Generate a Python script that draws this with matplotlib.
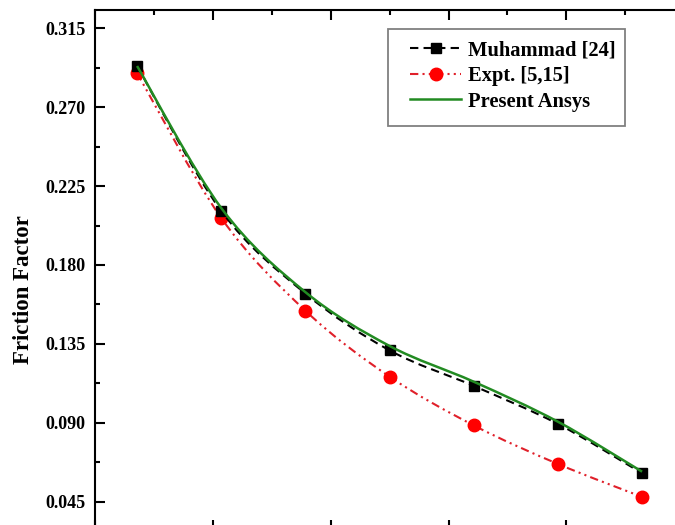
import matplotlib
matplotlib.use("Agg")
import numpy as np
import matplotlib.pyplot as plt
from matplotlib.ticker import MultipleLocator, FormatStrFormatter
from matplotlib.path import Path
from matplotlib.patches import PathPatch, Rectangle
from matplotlib.lines import Line2D

# Reynolds number at each sample
reynolds = [500, 1000, 1500, 2000, 2500, 3000, 3500]

# Friction factor series
muhammad = [0.2935, 0.2108, 0.1637, 0.1313, 0.1110, 0.0893, 0.0612]
experiment = [0.2895, 0.2068, 0.1539, 0.1163, 0.0885, 0.0665, 0.0477]
ansys = [0.2935, 0.2125, 0.1645, 0.1338, 0.1134, 0.0906, 0.0621]

series_labels = ["Muhammad [24]", "Expt. [5,15]", "Present Ansys"]
y_label = "Friction Factor"

plt.rcParams["font.family"] = ["Liberation Serif", "DejaVu Serif"]
plt.rcParams["font.weight"] = "bold"


def smooth_path(xs, ys):
    """Catmull-Rom curve through the points, as cubic Bezier segments."""
    pts = np.column_stack([xs, ys]).astype(float)
    ext = np.vstack([pts[0], pts, pts[-1]])
    verts = [pts[0]]
    codes = [Path.MOVETO]
    for i in range(len(pts) - 1):
        p0, p1, p2, p3 = ext[i], ext[i + 1], ext[i + 2], ext[i + 3]
        verts += [p1 + (p2 - p0) / 6, p2 - (p3 - p1) / 6, p2]
        codes += [Path.CURVE4] * 3
    return Path(verts, codes)


fig = plt.figure(figsize=(6.75, 5.25), dpi=100)
ax = fig.add_axes([95 / 675, -0.00895, 606 / 675, 0.9901])

styles = [
    dict(color="black", lw=1.5, ls=(0, (4, 2.5)), marker="s", ms=7.5,
         mfc="black", mec="black", z=3),
    dict(color="#e0202a", lw=1.5, ls=(0, (4, 2, 1, 2, 1, 2)), marker="o", ms=9,
         mfc="#ff0000", mec="#ff0000", z=2),
    dict(color="#228b22", lw=1.8, ls="-", marker=None, ms=0,
         mfc="none", mec="none", z=4),
]

handles = []
for ys, st, lab in zip([muhammad, experiment, ansys], styles, series_labels):
    ax.add_patch(PathPatch(smooth_path(reynolds, ys), fill=False, edgecolor=st["color"],
                           lw=st["lw"], ls=st["ls"], zorder=st["z"]))
    if st["marker"]:
        ax.plot(reynolds, ys, ls="none", marker=st["marker"], ms=st["ms"],
                mfc=st["mfc"], mec=st["mec"], zorder=st["z"] + 0.5)
    handles.append(Line2D([], [], color=st["color"], lw=st["lw"], ls=st["ls"],
                          marker=st["marker"], ms=st["ms"], mfc=st["mfc"],
                          mec=st["mec"], label=lab))

ax.set_xlim(250, 3850)
ax.set_ylim(0.029, 0.3255)

ax.xaxis.set_major_locator(MultipleLocator(700, offset=250))
ax.xaxis.set_minor_locator(MultipleLocator(350, offset=250))
ax.yaxis.set_major_locator(MultipleLocator(0.045))
ax.yaxis.set_minor_locator(MultipleLocator(0.0225))
ax.yaxis.set_major_formatter(FormatStrFormatter("%.3f"))

ax.tick_params(which="both", direction="in", top=True, right=True, width=1.5)
ax.tick_params(which="major", length=7.2, pad=7, labelsize=13)
ax.tick_params(which="minor", length=3.6)
ax.tick_params(axis="x", labelbottom=False)
for lbl in ax.get_yticklabels():
    lbl.set_fontweight("bold")

for sp in ax.spines.values():
    sp.set_linewidth(1.5)

fig.text(24 / 675, 1 - 290 / 525, y_label, rotation=90, ha="center", va="center",
         fontsize=16.5, fontweight="bold")

# legend box and entries
fig.add_artist(Rectangle((388 / 675, 1 - 126 / 525), 237 / 675, 97 / 525,
                         transform=fig.transFigure, fill=False,
                         edgecolor="#808080", lw=1.3))
ax.legend(handles=handles, loc="upper left", bbox_to_anchor=(410 / 675, 1 - 40 / 525),
          bbox_transform=fig.transFigure, borderaxespad=0, frameon=False,
          prop={"size": 14.8, "weight": "bold"}, handlelength=2.5,
          handletextpad=0.3, labelspacing=0.28, borderpad=0, numpoints=1)

fig.savefig("out.png", dpi=100)
